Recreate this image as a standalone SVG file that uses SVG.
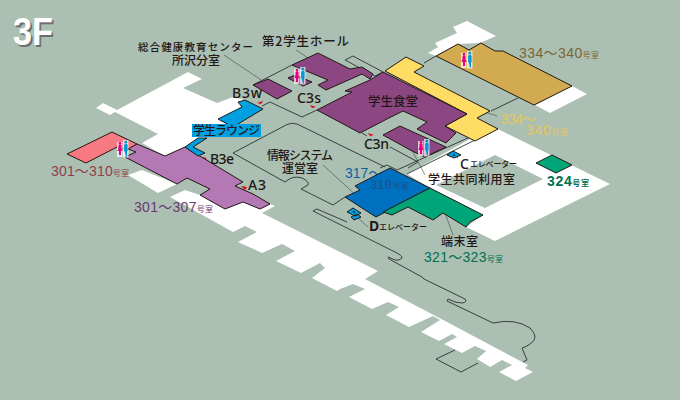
<svg xmlns="http://www.w3.org/2000/svg" width="680" height="400" viewBox="0 0 680 400">
<style>
text{font-family:"Noto Sans CJK JP","Liberation Sans",sans-serif;fill:#231815;font-weight:500}
.n{font-family:"Liberation Sans","Noto Sans CJK JP",sans-serif;font-weight:400}
.a{font-family:"Noto Sans","Liberation Sans",sans-serif;font-size:14px}
.j{font-size:12px}
.s{font-size:8px}
.w{fill:#fff}
.r{stroke:#231815;stroke-width:1;stroke-linejoin:miter}
.o{fill:none;stroke:#2b3330;stroke-width:.9}
.l{fill:none;stroke:#3c4a44;stroke-width:.6}
.d{fill:#231815}
.m{fill:#e60012}
</style>
<defs>
<g id="wc">
<path d="M-6-7h5.500v15h-5.500zM0-9h5.500v17.500h-5.500z" fill="#fff" opacity=".7"/>
<circle cx="-3" cy="-5.500" r="1.400" fill="#e6007e"/><path d="M-4.500-4h3v3l1 3h-1.500v4h-2v-4h-1.500l1-3z" fill="#e6007e"/>
<circle cx="2.800" cy="-7" r="1.600" fill="#0099d9"/><rect x="1.100" y="-5.200" width="3.500" height="8" rx="1.500" fill="#0099d9"/><path d="M1.700 2h2.300v5.500h-1.100z" fill="#0099d9"/>
</g>
</defs>
<rect width="680" height="400" fill="#abbfb2"/>
<g id="grounds">
<path class="w" d="M96 108L103 103L117 110L188 72L202 79L183 88L217 103L233 97L245 100L240 120L200 140L185 147L165 156L142 143L158 134L115 112L110 115Z"/>
<path class="w" d="M128 175L142 170L177 184L158 193Z"/>
<path class="w" d="M170 197L185 190L200 195L225 209L243 202L260 209L270 204L275 206L262 213L340 252L378 271L365 279L447 322L528 365L525 368L533 372L516 381L499 372L512 365L502 360L490 367L477 359L486 351L475 346L462 353L444 344L457 337L452 334L439 341L421 332L440 320L433 316L409 327L386 315L399 307L388 302L372 309L349 297L365 289L353 284L340 289L337 291L312 278L325 268L320 263L301 273L276 261L295 251L282 244L262 253L238 242L257 232L245 226L233 232Z"/>
<path class="w" d="M407 174L470 139L498 129L610 184L495 241L466 227L483 215L430 188Z"/>
<path fill="#abbfb2" d="M495 155L543 179L485 208L436 185Z"/>
<path class="w" d="M428 53L438 47L435 43L457 33L453 27L467 21L496 36L480 43L458 44L436 56Z"/>
<path class="w" d="M572 86L587 94L550 113L535 105Z"/>
</g>
<g id="connectors">
<path class="o" d="M436 56L424 63M253 85L292 65M262 106L270 102L302 117L317 110M345 60L353 56L383 72L375 76Z"/>
<path class="o" d="M518 98L491 111M233 153L286 125Q291 122 297 124L385 167M233 153L285 182Q293 175 302 178Q310 182 308 185L301 189L333 205L345 197"/>
<path class="o" d="M362 133L367 136M390 147L418 162L408 168M470 137L397 170L387 165L380 168M475 140L407 174"/>
<path class="o" d="M347 222L317 209L313 211L395 252Q403 256 402 258Q399 261 395 260L388 257L389 259L422 277L424 279L465 299L466 301Q465 303 462 303L455 302L448 299L447 301L493 323Q515 318 530 328Q540 338 530 344Q526 347 522 348L527 360L523 362M455 350L436 359L461 372L478 363"/>
<path class="l" d="M296 50L323 68M224 55L273 88M425 175L405 137M497 116L462 104M453 235L442 205M458 158L454 155M368 227L358 218M323 165L358 197"/>
<g class="d"><circle cx="323" cy="68" r="1.200"/><circle cx="273" cy="88" r="1.200"/><circle cx="405" cy="137" r="1.200"/><circle cx="462" cy="104" r="1.200"/><circle cx="442" cy="205" r="1.200"/><circle cx="358" cy="197" r="1.200"/></g>
<path class="m" d="M257 103L263 101L261 104ZM310 105L316 107L312 108ZM368 133L374 135L370 136ZM201 157L207 158L204 160ZM241 186L247 187L245 190Z"/>
</g>
<g id="r301-310"><path class="r" fill="#f77a82" d="M67 154L112 132L137 144L127 150L117 147L86 163Z"/></g>
<g id="r301-307"><path class="r" fill="#b478b4" d="M137 144L165 156L185 147L243 182L235 186L253 194L270 204L260 209L243 202L225 209L200 195L210 189L187 178L177 184L125 157L136 152L128 149Z"/></g>
<g id="lounge"><path class="r" fill="#00a0e0" d="M245 100L263 109L233 127L218 119L242 107L238 102ZM185 147L198 138L207 138L193 147L205 153L198 156Z"/></g>
<g id="r-tan"><path class="r" fill="#d2aa50" d="M436 56L458 44L469 50L481 43L495 51L503 51L572 86L534 105Z"/></g>
<g id="r-yellow"><path class="r" fill="#ffdc64" d="M385 71L406 57L424 66L414 72L490 111L477 118L498 129L475 141L445 126L467 114Z"/></g>
<g id="cafeteria"><path class="r" fill="#8c4682" d="M383 72L467 114L445 126L456 133L446 143L417 129L427 122L403 111L387 119L360 133L317 110L352 92L345 91L370 80Z"/></g>
<g id="hall2"><path class="r" fill="#8c4682" d="M292 65L318 53L350 69L362 67L373 74L370 79L362 74L326 90L318 85L328 80Z"/><path class="r" fill="#8c4682" d="M253 85L268 79L292 91L277 99Z"/><path class="r" fill="#8c4682" d="M288 78L295 75L312 82L303 86Z"/></g>
<g id="c3n"><path class="r" fill="#8c4682" d="M383 135L400 126L446 147L425 157L412 151Z"/></g>
<text x="345" y="178" class="n" font-size="14" style="fill:#0c5f9e">317～</text>
<g id="r319"><path class="r" fill="#0070c0" d="M390 168L430 188L376 217L362 208L345 197L360 190L355 186Z"/></g>
<g id="r321"><path class="r" fill="#00a578" d="M430 188L483 215L470 222L466 227L443 213L433 220L408 207L392 215L383 212Z"/></g>
<g id="r324"><path class="r" fill="#00a578" d="M536 163L552 155L572 165L556 173Z"/></g>
<g id="lift-c"><path class="r" fill="#00a0e0" stroke-width=".6" d="M447 155L453 151L461 155L454 158Z"/><circle class="d" cx="454" cy="155" r="1"/></g>
<g id="lift-d"><path class="r" fill="#00a0e0" stroke-width=".6" d="M347 212L353 208L361 213L355 216ZM351 217L357 214L361 217L354 220Z"/><circle class="d" cx="354" cy="212" r="1"/></g>
<g id="restrooms">
<use href="#wc" x="300" y="76"/><use href="#wc" x="123" y="149"/><use href="#wc" x="467" y="60"/><use href="#wc" x="424" y="148"/>
</g>
<g id="labels">
<text class="n" x="13" y="45" font-size="39" style="fill:#fff;font-weight:700;text-shadow:2px 2px 0 #6e6e6e" textLength="40" lengthAdjust="spacingAndGlyphs">3F</text>
<text x="138" y="51" font-size="10.500" textLength="115">総合健康教育センター</text>
<text x="172" y="65" class="j" textLength="48">所沢分室</text>
<text x="262" y="46" font-size="12.500" textLength="87">第2学生ホール</text>
<text x="232" y="98" class="a" textLength="30">B3w</text>
<text x="297" y="103" class="a" textLength="24">C3s</text>
<rect x="192" y="124" width="69" height="13" fill="#00a0e0"/>
<text x="193" y="135" class="j" textLength="67">学生ラウンジ</text>
<text x="210" y="164" class="a" textLength="24">B3e</text>
<text x="248" y="190" class="a" textLength="18">A3</text>
<text x="267" y="160" class="j" textLength="66">情報システム</text>
<text x="282" y="173" class="j" textLength="36">運営室</text>
<text x="368" y="106" font-size="12.500" textLength="50">学生食堂</text>
<text x="364" y="149" class="a" textLength="25">C3n</text>
<text x="370" y="189" class="n" font-size="13" style="fill:#1c5286">319<tspan class="s" dx="1">号室</tspan></text>
<text x="428" y="184" class="j" textLength="87">学生共同利用室</text>
<text x="460" y="169" class="a">C</text>
<text x="470" y="167" class="s" textLength="47">エレベーター</text>
<text x="369" y="231" class="a" style="font-weight:700">D</text>
<text x="379" y="230" class="s" textLength="48">エレベーター</text>
<text x="441" y="246" class="j" textLength="37">端末室</text>
<text x="424" y="262" class="n" font-size="14" style="fill:#00704f" textLength="79">321～323<tspan class="s">号室</tspan></text>
<text x="547" y="186" class="n" font-size="14" style="fill:#00704f;font-weight:700" textLength="42">324<tspan class="s">号室</tspan></text>
<text x="519" y="58" class="n" font-size="14" style="fill:#7a6632" textLength="80">334～340<tspan class="s">号室</tspan></text>
<text x="501" y="124" class="n" font-size="14" style="fill:#e6c75a" textLength="35">334～</text>
<text x="526" y="135" class="n" font-size="14" style="fill:#e6c75a" textLength="42">340<tspan class="s">号室</tspan></text>
<text x="51" y="176" class="n" font-size="14" style="fill:#8e3f4b" textLength="78">301～310<tspan class="s">号室</tspan></text>
<text x="134" y="212" class="n" font-size="14" style="fill:#6b3a72" textLength="79">301～307<tspan class="s">号室</tspan></text>
</g>
</svg>
